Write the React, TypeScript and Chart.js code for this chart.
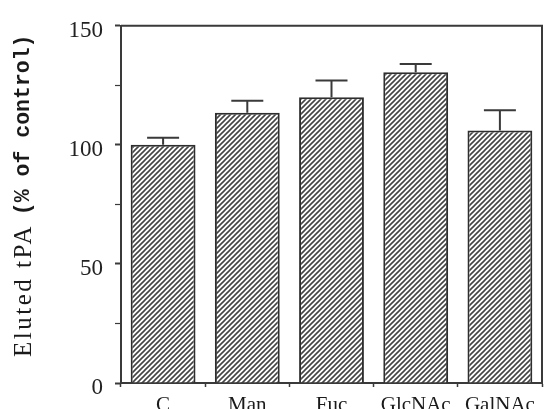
import React, { useEffect, useRef } from 'react';
import { Chart, registerables } from 'chart.js';

Chart.register(...registerables);

const categories = ['C', 'Man', 'Fuc', 'GlcNAc', 'GalNAc'];
const values = [100, 113.5, 120, 130.5, 106];
const errors = [3, 5, 7, 3.5, 8.5];
const yTickLabels = [0, 50, 100, 150];
const titleMain = 'Eluted tPA ';
const titleUnit = '(% of control)';

const INK = '#3a3a3a';

export default function App() {
  const ref = useRef<HTMLCanvasElement | null>(null);

  useEffect(() => {
    document.body.style.margin = '0';
    const canvas = ref.current!;
    const ctx0 = canvas.getContext('2d')!;

    const tile = document.createElement('canvas');
    tile.width = 5;
    tile.height = 5;
    const g = tile.getContext('2d')!;
    g.fillStyle = '#ffffff';
    g.fillRect(0, 0, 5, 5);
    g.strokeStyle = '#444444';
    g.lineWidth = 1.6;
    g.beginPath();
    g.moveTo(-1, 6);
    g.lineTo(6, -1);
    g.moveTo(-1, 1);
    g.lineTo(1, -1);
    g.moveTo(4, 6);
    g.lineTo(6, 4);
    g.stroke();
    const hatch = ctx0.createPattern(tile, 'repeat');

    const extras = {
      id: 'extras',
      afterDatasetsDraw(chart: any) {
        const ctx = chart.ctx;
        const y = chart.scales.y;
        const meta = chart.getDatasetMeta(0);
        ctx.save();
        ctx.strokeStyle = INK;
        ctx.lineWidth = 2;
        ctx.beginPath();
        meta.data.forEach((bar: any, i: number) => {
          const yBar = y.getPixelForValue(values[i]);
          const yTop = y.getPixelForValue(values[i] + errors[i]);
          ctx.moveTo(bar.x, yBar);
          ctx.lineTo(bar.x, yTop);
          ctx.moveTo(bar.x - 16, yTop);
          ctx.lineTo(bar.x + 16, yTop);
        });
        ctx.stroke();
        ctx.restore();
      },
      afterDraw(chart: any) {
        const ctx = chart.ctx;
        const a = chart.chartArea;
        ctx.save();
        ctx.strokeStyle = INK;
        ctx.lineWidth = 2;
        ctx.beginPath();
        ctx.moveTo(a.left, a.top);
        ctx.lineTo(a.right, a.top);
        ctx.lineTo(a.right, a.bottom);
        ctx.stroke();

        ctx.translate(24, 357);
        ctx.rotate(-Math.PI / 2);
        ctx.textBaseline = 'middle';
        ctx.textAlign = 'left';
        ctx.fillStyle = '#1a1a1a';
        ctx.font = '25px "Liberation Serif"';
        (ctx as any).letterSpacing = '2.5px';
        ctx.fillText(titleMain, 0, 0);
        const w = ctx.measureText(titleMain).width;
        ctx.font = 'bold 21.5px "Liberation Mono"';
        (ctx as any).letterSpacing = '0px';
        ctx.fillText(titleUnit, w, 0);
        ctx.restore();
      },
    };

    const chart = new Chart(canvas, {
      type: 'bar',
      data: {
        labels: categories,
        datasets: [
          {
            data: values,
            backgroundColor: hatch as any,
            borderColor: '#2e2e2e',
            borderWidth: 2,
            barPercentage: 0.77,
            categoryPercentage: 1,
          },
        ],
      },
      options: {
        responsive: false,
        animation: false,
        layout: { padding: { left: 0, top: 15, right: 4, bottom: 0 } },
        plugins: {
          legend: { display: false },
          tooltip: { enabled: false },
          title: { display: false },
        },
        scales: {
          x: {
            afterFit(scale: any) {
              scale.height = 26;
            },
            grid: {
              offset: true,
              drawOnChartArea: false,
              tickLength: 4,
              tickColor: INK,
              tickWidth: 1.5,
            },
            border: { display: true, color: INK, width: 2 },
            ticks: {
              color: '#1a1a1a',
              padding: 6,
              font: { family: '"Liberation Serif"', size: 21 },
            },
          },
          y: {
            min: 0,
            max: 150,
            afterFit(scale: any) {
              scale.width = 121;
            },
            grid: {
              drawOnChartArea: false,
              tickLength: 6,
              tickColor: INK,
              tickWidth: (c: any) => (c.tick && c.tick.value % 50 === 0 ? 2 : 1.2),
            },
            border: { display: true, color: INK, width: 2 },
            ticks: {
              stepSize: 25,
              autoSkip: false,
              labelOffset: 5,
              padding: 12,
              color: '#222',
              font: { family: '"Liberation Serif"', size: 23 },
              callback: (v: any) => (yTickLabels.includes(Number(v)) ? String(v) : ''),
            },
          },
        },
      },
      plugins: [extras],
    });

    return () => chart.destroy();
  }, []);

  return (
    <div style={{ width: 546, height: 409, background: '#fff' }}>
      <canvas ref={ref} width={546} height={409} />
    </div>
  );
}
